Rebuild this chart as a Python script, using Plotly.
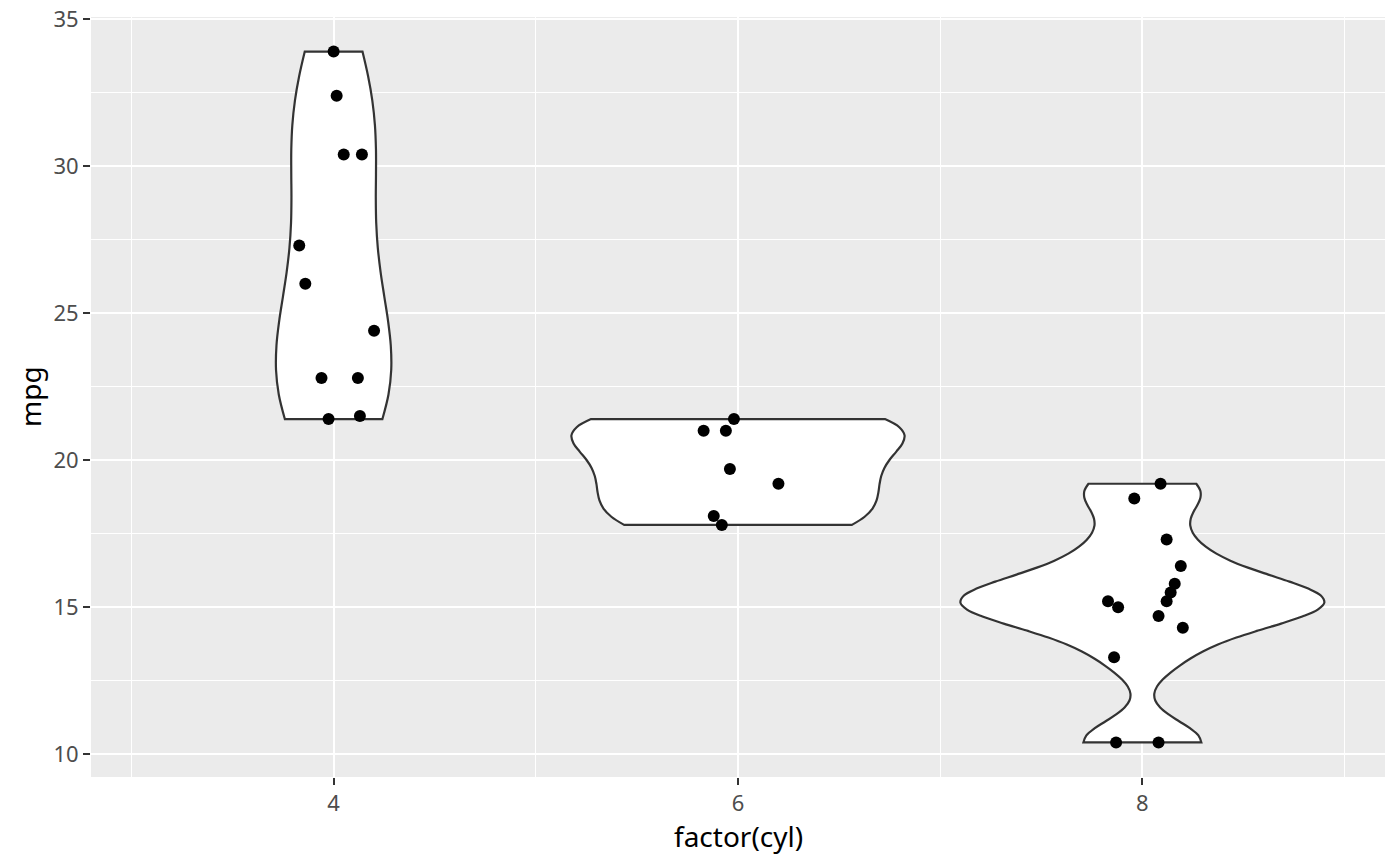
import numpy as np
import plotly.graph_objects as go

# mtcars mpg grouped by cylinder count
cyl_levels = [4, 6, 8]
mpg_4 = [22.8, 24.4, 22.8, 32.4, 30.4, 33.9, 21.5, 27.3, 26.0, 30.4, 21.4]
mpg_6 = [21.0, 21.0, 21.4, 18.1, 19.2, 17.8, 19.7]
mpg_8 = [18.7, 14.3, 16.4, 17.3, 15.2, 10.4, 10.4, 14.7, 15.5, 15.2, 13.3, 19.2, 15.8, 15.0]

# jittered x positions of the points
jit_4 = [3.94, 4.20, 4.12, 4.015, 4.05, 4.0, 4.13, 3.83, 3.86, 4.14, 3.975]
jit_6 = [5.83, 5.94, 5.98, 5.88, 6.20, 5.92, 5.96]
jit_8 = [7.96, 8.20, 8.19, 8.12, 7.83, 7.87, 8.08, 8.08, 8.14, 8.12, 7.86, 8.09, 8.16, 7.88]

groups = [mpg_4, mpg_6, mpg_8]
jitters = [jit_4, jit_6, jit_8]


def bw_nrd0(v):
    # same rule of thumb R uses for geom_violin
    v = np.asarray(v, dtype=float)
    iqr = np.subtract(*np.percentile(v, [75, 25]))
    lo = min(np.std(v, ddof=1), iqr / 1.34)
    return 0.9 * lo * len(v) ** -0.2


fig = go.Figure()

for cyl, vals in zip(cyl_levels, groups):
    fig.add_trace(go.Violin(
        x=[cyl] * len(vals),
        y=vals,
        bandwidth=bw_nrd0(vals),
        spanmode="hard",
        scalegroup="all",  # shared scale -> equal areas like ggplot's scale="area"
        scalemode="width",
        points=False,
        box_visible=False,
        meanline_visible=False,
        fillcolor="white",
        line=dict(color="#333333", width=2.2),
        hoverinfo="skip",
        showlegend=False,
    ))

for vals, xs in zip(groups, jitters):
    fig.add_trace(go.Scatter(
        x=xs, y=vals, mode="markers",
        marker=dict(color="black", size=12),
        showlegend=False,
    ))

axis_common = dict(
    showline=False, zeroline=False, automargin=False,
    ticklabeloverflow="allow",
    gridcolor="white", gridwidth=2.2,
    ticks="outside", ticklen=7, tickwidth=2.2, tickcolor="#333333",
    tickfont=dict(family="Noto Sans", size=22, color="#4D4D4D"),
)

title_font = dict(family="Noto Sans", size=28, color="black")

fig.update_layout(
    width=1400, height=866,
    violinmode="overlay",
    violingap=0.1,
    violingroupgap=0,
    plot_bgcolor="#EBEBEB", paper_bgcolor="white",
    margin=dict(l=91, r=15, t=17, b=89),
    xaxis=dict(
        range=[2.8, 9.2], tick0=4, dtick=2,
        minor=dict(dtick=1, tick0=3, showgrid=True, gridcolor="white", gridwidth=1.1, ticks=""),
        **axis_common,
    ),
    yaxis=dict(
        range=[9.225, 35.075], tick0=10, dtick=5,
        minor=dict(dtick=2.5, showgrid=True, gridcolor="white", gridwidth=1.1, ticks=""),
        **axis_common,
    ),
    annotations=[
        dict(text="factor(cyl)", xref="paper", yref="paper", x=0.5, y=0,
             xanchor="center", yanchor="top", yshift=-38,
             showarrow=False, font=title_font),
        dict(text="mpg", xref="paper", yref="paper", x=0, y=0.5,
             xanchor="center", yanchor="middle", xshift=-61, textangle=-90,
             showarrow=False, font=title_font),
    ],
)

# drop the default 8px page margin so the figure fills the window exactly
fig.write_html(
    "out.html",
    config={"displayModeBar": False},
    post_script="document.body.style.margin='0';",
)
